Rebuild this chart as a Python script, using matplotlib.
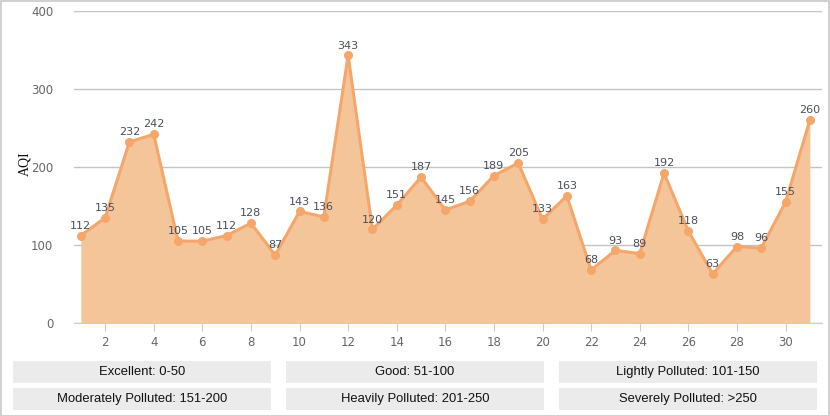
import matplotlib.pyplot as plt
from matplotlib.patches import Rectangle

plt.rcParams['font.family'] = ['Liberation Sans', 'DejaVu Sans']

days = list(range(1, 32))
aqi = [112, 135, 232, 242, 105, 105, 112, 128, 87, 143, 136, 343, 120, 151, 187,
       145, 156, 189, 205, 133, 163, 68, 93, 89, 192, 118, 63, 98, 96, 155, 260]
levels = ['Excellent: 0-50', 'Good: 51-100', 'Lightly Polluted: 101-150',
          'Moderately Polluted: 151-200', 'Heavily Polluted: 201-250', 'Severely Polluted: >250']

W, H = 830, 416
fig = plt.figure(figsize=(W / 100, H / 100), dpi=100)
ax = fig.add_axes([74 / W, 1 - 323 / H, 748 / W, 312 / H])

line_c = '#F5A66A'
fill_c = '#F5C59A'
ax.fill_between(days, aqi, 0, color=fill_c, lw=0, zorder=2)
ax.plot(days, aqi, color=line_c, lw=2.2, marker='o', ms=5.5, zorder=3)
for d, v in zip(days, aqi):
    ax.annotate(str(v), (d, v), xytext=(0, 3.5), textcoords='offset points',
                ha='center', va='bottom', fontsize=8, color='#4A4F5A',
                family='DejaVu Sans', zorder=4)

ax.set_xlim(0.72, 31.5)
ax.set_ylim(0, 400)
ax.set_xticks(range(2, 31, 2))
ax.set_yticks([0, 100, 200, 300, 400])
ax.yaxis.grid(True, color='#C4C4C4', lw=1)
ax.set_axisbelow(True)
for s in ['top', 'right', 'left']:
    ax.spines[s].set_visible(False)
ax.spines['bottom'].set_color('#C0D0E0')
ax.spines['bottom'].set_zorder(5)
ax.tick_params(axis='x', colors='#C0D0E0', length=6, labelcolor='#666666', labelsize=8.5, pad=3)
ax.tick_params(axis='y', length=0, labelcolor='#666666', labelsize=8.5, pad=15)
for lab in ax.get_xticklabels() + ax.get_yticklabels():
    lab.set_family('DejaVu Sans')
fig.text(25 / W, 1 - 164 / H, 'AQI', rotation=90, ha='center', va='center',
         fontsize=10, color='#111111', family='Liberation Serif')

# legend boxes
cols = [13, 286, 559]
rows = [361, 388]
bw, bh = 258, 22
for i, txt in enumerate(levels):
    x0 = cols[i % 3]
    y0 = rows[i // 3]
    fig.patches.append(Rectangle((x0 / W, 1 - (y0 + bh) / H), bw / W, bh / H,
                                 transform=fig.transFigure, facecolor='#EBEBEB',
                                 edgecolor='none'))
    fig.text((x0 + bw / 2) / W, 1 - (y0 + bh / 2) / H, txt, ha='center', va='center',
             fontsize=9.4, color='#111111')

fig.patches.append(Rectangle((0.5 / W, 0.5 / H), (W - 1.5) / W, (H - 1.5) / H,
                             transform=fig.transFigure, facecolor='none',
                             edgecolor='#C8C8C8', lw=1.2))

fig.savefig('out.png', dpi=100)
